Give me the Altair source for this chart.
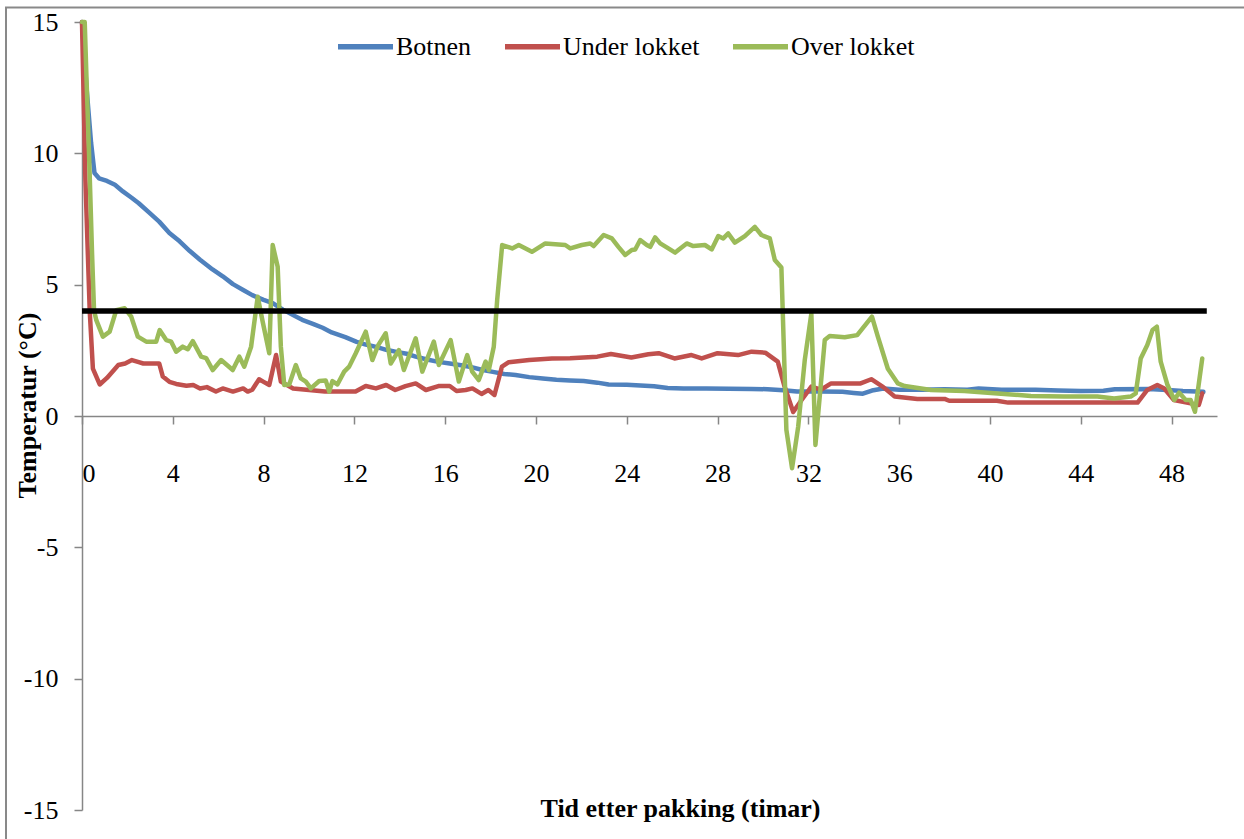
import altair as alt
import pandas as pd

# Series names and Excel-style colours
SERIES = ["Botnen", "Under lokket", "Over lokket"]
COLORS = ["#4F81BD", "#C0504D", "#9BBB59"]

# Botnen (bottom of the box): hours after packing / temperature (°C)
botnen_t = [0, 0.2, 0.4, 0.55, 0.75, 1.1, 1.45, 1.8, 2.2, 2.5, 2.95, 3.4, 3.85, 4.3,
            4.75, 5.2, 5.75, 6.2, 6.65, 7.1, 7.5, 8.0, 8.4, 8.85, 9.3, 9.7, 10.2, 10.6,
            11.0, 11.6, 12.1, 12.5, 13.0, 13.4, 13.8, 14.3, 14.7, 15.2, 15.7, 16.2, 16.7,
            17.2, 17.6, 18.1, 18.6, 19.1, 19.7, 20.3, 20.9, 21.5, 22.1, 22.7, 23.2, 24.0,
            24.6, 25.2, 25.8, 26.5, 27.5, 28.5, 29.5, 30.2, 30.9, 31.5, 32.5, 33.5, 34.0,
            34.4, 34.8, 35.3, 36.0, 37.0, 38.0, 39.0, 39.5, 40.5, 42.0, 43.0, 44.0, 45.0,
            45.5, 47.0, 48.0, 48.5, 49.4]
botnen_v = [15.0, 12.5, 10.4, 9.25, 9.05, 8.95, 8.8, 8.55, 8.3, 8.1, 7.75, 7.4, 6.97, 6.65,
            6.28, 5.95, 5.58, 5.32, 5.02, 4.8, 4.6, 4.42, 4.3, 4.05, 3.84, 3.66, 3.5, 3.36,
            3.18, 3.0, 2.82, 2.72, 2.62, 2.52, 2.45, 2.37, 2.26, 2.15, 2.06, 2.0, 1.93,
            1.85, 1.76, 1.68, 1.6, 1.56, 1.48, 1.43, 1.38, 1.35, 1.33, 1.27, 1.2, 1.19,
            1.16, 1.13, 1.07, 1.05, 1.05, 1.04, 1.03, 1.02, 0.98, 0.93, 0.93, 0.92, 0.88,
            0.85, 0.97, 1.05, 1.0, 1.0, 1.02, 1.0, 1.05, 1.0, 1.0, 0.97, 0.95, 0.96,
            1.02, 1.03, 0.98, 0.95, 0.92]

# Under lokket (under the lid)
under_t = [0, 0.15, 0.34, 0.48, 0.78, 1.1, 1.6, 1.9, 2.2, 2.5, 2.7, 3.0, 3.4, 3.56, 3.85,
           4.15, 4.6, 4.9, 5.2, 5.5, 5.9, 6.2, 6.65, 7.1, 7.3, 7.5, 7.8, 8.0, 8.25, 8.55,
           8.76, 9.3, 10.0, 10.7, 11.5, 12.05, 12.5, 12.95, 13.4, 13.8, 14.25, 14.7, 15.15,
           15.7, 16.2, 16.5, 16.9, 17.2, 17.6, 17.9, 18.17, 18.5, 18.8, 19.7, 20.7, 21.5,
           22.7, 23.3, 24.2, 24.95, 25.4, 26.1, 26.85, 27.3, 28.0, 28.9, 29.5, 30.1, 30.65,
           30.95, 31.33, 31.7, 32.13, 32.55, 33.0, 34.3, 34.77, 35.3, 35.8, 36.8, 38.0,
           38.2, 40.3, 40.8, 46.5, 46.93, 47.37, 47.66, 48.1, 48.84, 49.2, 49.35]
under_v = [15.0, 9.0, 4.0, 1.8, 1.2, 1.45, 1.94, 2.0, 2.13, 2.05, 2.0, 2.0, 2.0, 1.5, 1.3,
           1.22, 1.15, 1.18, 1.05, 1.1, 0.93, 1.05, 0.93, 1.05, 0.93, 1.0, 1.4, 1.3, 1.18, 2.32,
           1.31, 1.05, 0.99, 0.93, 0.93, 0.93, 1.14, 1.05, 1.18, 0.99, 1.14, 1.24, 0.99,
           1.14, 1.14, 0.95, 0.99, 1.05, 0.84, 0.99, 0.8, 1.88, 2.05, 2.13, 2.19, 2.2,
           2.26, 2.36, 2.23, 2.35, 2.39, 2.19, 2.32, 2.19, 2.39, 2.32, 2.45, 2.41, 2.07,
           1.12, 0.15, 0.61, 1.12, 1.0, 1.24, 1.24, 1.4, 1.1, 0.74, 0.65, 0.65,
           0.58, 0.58, 0.51, 0.51, 0.99, 1.18, 1.06, 0.61, 0.48, 0.42, 0.86]

# Over lokket (above the lid)
over_t = [0, 0.12, 0.2, 0.31, 0.45, 0.53, 0.63, 0.92, 1.22, 1.51, 1.88, 2.17, 2.46, 2.83,
          3.27, 3.42, 3.71, 3.93, 4.15, 4.44, 4.66, 4.88, 5.25, 5.47, 5.76, 6.13, 6.64,
          6.93, 7.15, 7.45, 7.74, 7.96, 8.25, 8.4, 8.62, 8.76, 8.91, 9.13, 9.42, 9.64, 9.86,
          10.08, 10.45, 10.74, 10.89, 11.03, 11.25, 11.55, 11.77, 12.06, 12.5, 12.79, 13.05,
          13.38, 13.6, 13.96, 14.18, 14.7, 14.99, 15.5, 15.72, 16.24, 16.6, 16.97, 17.19,
          17.48, 17.78, 17.92, 18.14, 18.29, 18.51, 18.95, 19.24, 19.82, 20.41, 21.29, 21.51,
          22.02, 22.39, 22.54, 22.98, 23.34, 23.63, 23.93, 24.22, 24.37, 24.59, 24.88, 25.03,
          25.25, 25.47, 25.83, 26.13, 26.27, 26.64, 26.93, 27.44, 27.74, 28.03, 28.25, 28.47,
          28.76, 29.2, 29.64, 29.93, 30.3, 30.52, 30.81, 31.03, 31.28, 31.55, 31.84, 32.13,
          32.31, 32.72, 32.94, 33.6, 34.15, 34.8, 35.06, 35.5, 35.94, 36.24, 37.41, 38.87,
          40.34, 41.8, 43.27, 44.73, 45.47, 46.2, 46.42, 46.64, 46.93, 47.16, 47.35, 47.52,
          47.82, 48.12, 48.33, 48.62, 48.84, 49.03, 49.35]
over_v = [15.0, 15.0, 12.8, 10.0, 6.0, 4.03, 3.65, 3.02, 3.21, 4.03, 4.1, 3.78, 3.02, 2.83,
          2.83, 3.27, 2.89, 2.83, 2.45, 2.64, 2.54, 2.85, 2.26, 2.2, 1.75, 2.13, 1.75,
          2.26, 1.88, 2.64, 4.54, 3.59, 2.39, 6.51, 5.68, 2.64, 1.18, 1.2, 1.94, 1.43, 1.31,
          1.05, 1.33, 1.35, 0.93, 1.33, 1.2, 1.69, 1.88, 2.39, 3.21, 2.13, 2.7,
          3.15, 2.0, 2.51, 1.75, 2.96, 1.69, 2.83, 1.94, 2.89, 1.31, 2.32, 1.69,
          1.37, 2.07, 1.75, 2.64, 4.42, 6.51, 6.38, 6.51, 6.25, 6.57, 6.51, 6.38,
          6.51, 6.57, 6.47, 6.89, 6.76, 6.44, 6.13, 6.32, 6.34, 6.7, 6.51, 6.44,
          6.8, 6.57, 6.38, 6.22, 6.32, 6.57, 6.47, 6.51, 6.34, 6.85, 6.76, 6.95,
          6.6, 6.85, 7.2, 6.89, 6.76, 5.94, 5.65, -0.53, -1.99, -0.41, 2.13, 3.9,
          -1.1, 2.89, 3.05, 3.0, 3.08, 3.78, 3.02, 1.8, 1.24, 1.14, 0.99, 0.95,
          0.86, 0.76, 0.74, 0.74, 0.67, 0.74, 0.86, 2.19, 2.7, 3.27, 3.4, 2.07,
          1.18, 0.61, 0.89, 0.61, 0.61, 0.16, 2.19]

# 4 °C reference level
limit_t = [0, 49.55]
limit_v = [4, 4]

x_ticks = list(range(0, 49, 4))
y_ticks = [-15, -10, -5, 0, 5, 10, 15]

frames = [pd.DataFrame({"tid": t, "temp": v, "serie": name})
          for name, t, v in [("Botnen", botnen_t, botnen_v),
                             ("Under lokket", under_t, under_v),
                             ("Over lokket", over_t, over_v)]]
df = pd.concat(frames, ignore_index=True)
limit_df = pd.DataFrame({"tid": limit_t, "temp": limit_v})

W, H = 1135, 788
FONT = "Liberation Serif"
GREY = "#868686"

x_enc = alt.X(
    "tid:Q",
    scale=alt.Scale(domain=[0, 50], nice=False, zero=False),
    axis=alt.Axis(
        values=x_ticks, offset=-H / 2, grid=False,
        title="Tid etter pakking (timar)", titleX=598, titleY=400,
        titleAlign="center", titleBaseline="alphabetic",
        labelPadding=36, tickSize=8,
    ),
)
y_enc = alt.Y(
    "temp:Q",
    scale=alt.Scale(domain=[-15, 15], nice=False, zero=False),
    axis=alt.Axis(
        values=y_ticks, grid=False, labelExpr="'' + datum.value",
        title="Temperatur (°C)", titleX=-55, titleY=383, titleAngle=270,
        titleAlign="center", titleBaseline="middle",
        labelPadding=16, tickSize=8,
    ),
)

lines = alt.Chart(df).mark_line(
    strokeWidth=4.5, strokeJoin="round", strokeCap="round"
).encode(
    x=x_enc,
    y=y_enc,
    color=alt.Color(
        "serie:N",
        scale=alt.Scale(domain=SERIES, range=COLORS),
        legend=alt.Legend(
            orient="none", legendX=253, legendY=-6, direction="horizontal",
            title=None, symbolType="stroke", symbolStrokeWidth=5.5, symbolSize=3025,
            labelFont=FONT, labelFontSize=26, labelColor="black", labelOffset=0,
            columnPadding=22, padding=0, labelLimit=0,
        ),
    ),
)

limit = alt.Chart(limit_df).mark_line(color="black", strokeWidth=5.5).encode(
    x=x_enc, y=y_enc
)

# outer frame of the chart area
frame_df = pd.DataFrame({"k": [0]})
frame_top = alt.Chart(frame_df).mark_rule(color="#898989", strokeWidth=2).encode(
    x=alt.value(-77), x2=alt.value(1170), y=alt.value(-14.5)
)
frame_left = alt.Chart(frame_df).mark_rule(color="#898989", strokeWidth=2).encode(
    x=alt.value(-76), y=alt.value(-15), y2=alt.value(830)
)

chart = alt.layer(frame_top, frame_left, lines, limit).properties(
    width=W, height=H,
    padding={"left": 82, "top": 22, "right": 27, "bottom": 29},
    autosize="none",
    background="white",
).configure_view(stroke=None).configure_axis(
    domainColor=GREY, domainWidth=1.5, tickColor=GREY, tickWidth=1.5,
    labelFont=FONT, labelFontSize=26, labelColor="black",
    titleFont=FONT, titleFontSize=26, titleFontWeight="bold", titleColor="black",
)

chart.save("out.html", embed_options={"renderer": "svg", "actions": False})
